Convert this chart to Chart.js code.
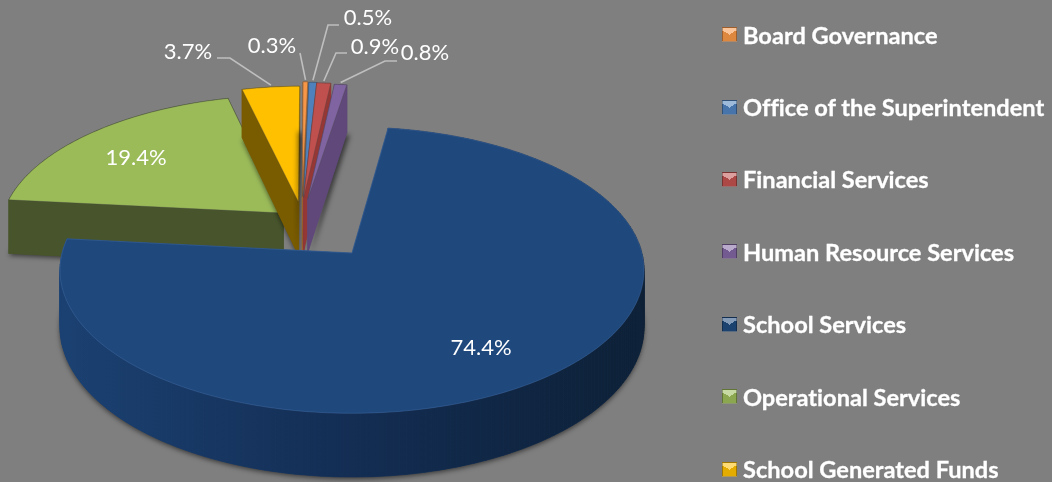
<!DOCTYPE html>
<html>
<head>
<meta charset="utf-8">
<title>Budget by service</title>
<script src="https://cdn.jsdelivr.net/npm/chart.js@4"></script>
<style>
    html, body { margin: 0; padding: 0; background: #7f7f7f; }
    #wrap { position: relative; width: 1052px; height: 482px; overflow: hidden; }
    #pie { position: absolute; left: 0; top: 0; }
    #legend { position: absolute; left: 722px; top: -1.5px; margin: 0; padding: 0; list-style: none; }
    #legend li {
        height: 72.4px; display: flex; align-items: center; white-space: nowrap;
        font: bold 23.6px Lato, sans-serif; font-variant-ligatures: none; color: #fff;
        -webkit-text-stroke: 0.3px #fff;
    }
    #legend i {
        width: 13px; height: 13px; margin-right: 6px; display: block; flex: none;
        border: 1px solid rgba(0,0,0,0.3);
    }
</style>
</head>
<body>
<div id="wrap">
    <canvas id="pie" width="1052" height="482"></canvas>
    <ul id="legend"></ul>
</div>
<script>
const categories = ['Board Governance', 'Office of the Superintendent', 'Financial Services',
    'Human Resource Services', 'School Services', 'Operational Services', 'School Generated Funds'];
const shares = [0.3, 0.5, 0.9, 0.8, 74.4, 19.4, 3.7];

const topColors = ['#f79646', '#4f81bd', '#c0504d', '#8064a2', '#1f497d', '#9bbb59', '#ffc000'];
const wallLeft = ['#a8652c', '#37618f', '#953735', '#60497a', '#1b4172', '#48552c', '#7a5c00'];
const wallMid = ['#a8652c', '#37618f', '#953735', '#5d4777', '#132d53', '#48552c', '#7a5c00'];
const wallRight = ['#a8652c', '#37618f', '#953735', '#5a4474', '#0d2036', '#48552c', '#7a5c00'];
const edgeColors = ['rgba(70,70,70,0.35)', 'rgba(70,70,70,0.35)', 'rgba(70,70,70,0.35)', 'rgba(70,70,70,0.35)',
    'rgba(90,130,190,0.3)', 'rgba(70,70,70,0.35)', 'rgba(70,70,70,0.35)'];

// how far each slice is pulled out, in units of the radius
const explode = [[-0.18, -0.42], [-0.175, -0.415], [-0.175, -0.41], [-0.16, -0.40], [0, 0], [-0.245, -0.293], [-0.193, -0.378]];
const shadowShift = [-5, 0, 0, 3, 0, 0, 0];
const drawOrder = [5, 6, 0, 1, 2, 3, 4];

// label box centres and the elbow of the leader line (null = no leader)
const labelSpots = [[272, 46], [368, 18], [375, 47], [425, 53], [481, 348], [136, 158], [188, 52]];
const elbows = [[300, 53], [328, 25], [336, 53], [385, 61], null, null, [230, 58]];
const leaderStarts = [[300, 53], [339, 25], [347, 53], [397, 61], null, null, [217, 58]];

const persp = 0.12, stretchX = 1.266, squashY = 0.616, depth = 0.245;

function project(arc, u, v, d) {
    const r = arc.outerRadius, w = 1 - persp * v;
    return { x: arc.x + stretchX * r * u / w, y: arc.y + (squashY * v + d * depth) * r / w };
}

function sliceOutline(arc, i) {
    const [eu, ev] = explode[i];
    const pts = [{ u: eu, v: ev, rim: false }];
    const steps = Math.max(2, Math.ceil((arc.endAngle - arc.startAngle) / 0.02));
    for (let s = 0; s <= steps; s++) {
        const a = arc.startAngle + (arc.endAngle - arc.startAngle) * s / steps;
        pts.push({ u: eu + Math.cos(a), v: ev + Math.sin(a), rim: true });
    }
    return pts;
}

function tracePath(ctx, pts) {
    ctx.beginPath();
    pts.forEach((p, n) => n ? ctx.lineTo(p.x, p.y) : ctx.moveTo(p.x, p.y));
    ctx.closePath();
}

const pie3d = {
    id: 'pie3d',
    beforeDatasetDraw(chart) {
        const ctx = chart.ctx;
        const arcs = chart.getDatasetMeta(0).data;
        drawOrder.forEach(i => {
            const arc = arcs[i];
            const outline = sliceOutline(arc, i);
            const topPts = outline.map(p => project(arc, p.u, p.v, 0));
            const lowPts = outline.map(p => project(arc, p.u, p.v, 1));

            const xs = lowPts.map(p => p.x);
            const grad = ctx.createLinearGradient(Math.min(...xs), 0, Math.max(...xs), 0);
            grad.addColorStop(0, wallLeft[i]);
            grad.addColorStop(0.5, wallMid[i]);
            grad.addColorStop(1, wallRight[i]);

            // soft shadow under the slice
            ctx.save();
            ctx.shadowColor = 'rgba(0,0,0,0.55)';
            ctx.shadowBlur = 5;
            ctx.shadowOffsetX = shadowShift[i];
            ctx.shadowOffsetY = 2;
            ctx.fillStyle = wallLeft[i];
            tracePath(ctx, lowPts);
            ctx.fill();
            ctx.restore();

            // walls, back ones first
            const quads = [];
            for (let n = 0; n < outline.length; n++) {
                const m = (n + 1) % outline.length;
                quads.push({
                    pts: [topPts[n], topPts[m], lowPts[m], lowPts[n]],
                    v: outline[n].v + outline[m].v,
                    rim: outline[n].rim && outline[m].rim
                });
            }
            quads.sort((a, b) => a.v - b.v);
            quads.forEach(q => {
                const fill = q.rim ? grad : wallLeft[i];
                ctx.fillStyle = fill;
                ctx.strokeStyle = fill;
                ctx.lineWidth = 0.6;
                tracePath(ctx, q.pts);
                ctx.fill();
                ctx.stroke();
            });

            ctx.fillStyle = topColors[i];
            tracePath(ctx, topPts);
            ctx.fill();
            ctx.strokeStyle = edgeColors[i];
            ctx.lineWidth = 1;
            ctx.stroke();
        });
        return false;
    },
    afterDatasetsDraw(chart) {
        const ctx = chart.ctx;
        const arcs = chart.getDatasetMeta(0).data;
        ctx.save();
        ctx.strokeStyle = '#bfbfbf';
        ctx.lineWidth = 1.6;
        shares.forEach((val, i) => {
            if (!elbows[i]) return;
            const arc = arcs[i];
            const mid = (arc.startAngle + arc.endAngle) / 2;
            const end = project(arc, explode[i][0] + Math.cos(mid), explode[i][1] + Math.sin(mid) - 0.02, 0);
            ctx.beginPath();
            ctx.moveTo(leaderStarts[i][0], leaderStarts[i][1]);
            ctx.lineTo(elbows[i][0], elbows[i][1]);
            ctx.lineTo(end.x, end.y);
            ctx.stroke();
        });
        ctx.fillStyle = '#fff';
        ctx.font = '22px Lato, sans-serif';
        ctx.textAlign = 'center';
        ctx.textBaseline = 'middle';
        shares.forEach((val, i) => ctx.fillText(val.toFixed(1) + '%', labelSpots[i][0], labelSpots[i][1]));
        ctx.restore();
    }
};

new Chart(document.getElementById('pie'), {
    type: 'pie',
    data: {
        labels: categories,
        datasets: [{ data: shares, backgroundColor: topColors, borderWidth: 0 }]
    },
    options: {
        responsive: false,
        animation: false,
        rotation: -1,
        layout: { padding: { top: 24, right: 348 } },
        plugins: { legend: { display: false }, tooltip: { enabled: false } }
    },
    plugins: [pie3d]
});

// legend is plain html so it can sit at the reference spacing
document.getElementById('legend').innerHTML = categories.map((name, i) => {
    const c = topColors[i];
    return `<li><i style="background: conic-gradient(from 300deg, rgba(255,255,255,0.45) 0 33%, rgba(0,0,0,0.1) 33% 100%), ${c}"></i>${name}</li>`;
}).join('');
</script>
</body>
</html>
